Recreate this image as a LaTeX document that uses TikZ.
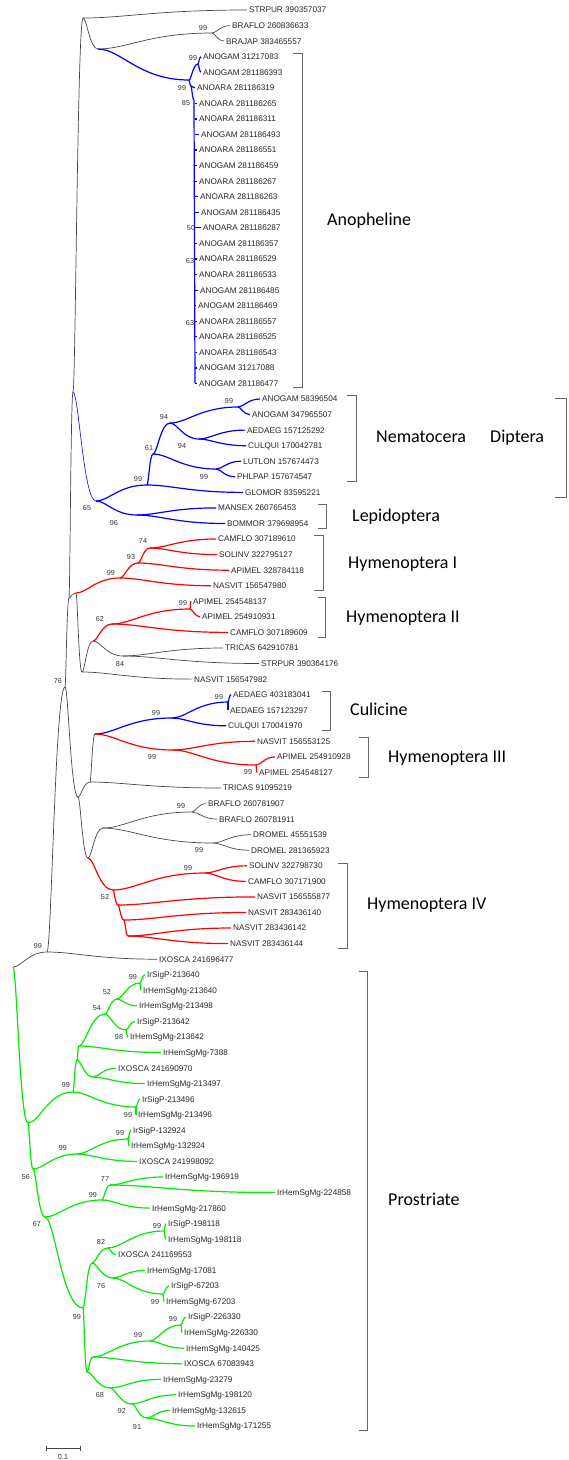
\documentclass[tikz,border=0pt]{standalone}
\usepackage{fontspec}
\setmainfont{Liberation Sans}
\newfontfamily\grpfont{Carlito}
\usetikzlibrary{calc}
\definecolor{treeblue}{RGB}{0,0,255}
\definecolor{treered}{RGB}{255,0,0}
\definecolor{treegreen}{RGB}{0,235,0}
\definecolor{treegray}{RGB}{70,70,70}

\begin{document}
\begin{tikzpicture}[
  x=1pt, y=-1pt,
  lf/.style={anchor=west, inner sep=2pt, text height=5.9pt, text depth=0pt, font=\fontsize{8.2}{9}\selectfont, text=black!85},
  bs/.style={inner sep=0pt, font=\fontsize{7.2}{8}\selectfont, text=black!80},
  grp/.style={anchor=west, inner sep=0pt, text height=11.6pt, text depth=0pt, font=\grpfont\fontsize{18}{20}\selectfont},
  br/.style={to path={let \p1=(\tikztostart), \p2=(\tikztotarget) in .. controls ({\x1+0.25*(\x2-\x1)},\y1) and ({\x1+0.45*(\x2-\x1)},\y2) .. (\p2)}},
  gy/.style={draw=treegray, line width=0.7pt},
  bl/.style={draw=treeblue, line width=1.2pt},
  bt/.style={draw=treeblue, line width=0.6pt},
  rd/.style={draw=treered, line width=1.2pt},
  gn/.style={draw=treegreen, line width=1.2pt},
  brk/.style={draw=black!60, line width=0.7pt}
]
\useasboundingbox (0,0) rectangle (569,1460);

\coordinate (rt) at (13,967);
\coordinate (ix) at (47,952);
\coordinate (n76) at (65,687);
\coordinate (tt) at (69,598);
\coordinate (zz) at (73,392);
\coordinate (xx) at (83,18);
\coordinate (yy) at (98,49);
\coordinate (bra) at (212,33);
\coordinate (ano) at (189,80);
\coordinate (ag1) at (198,64);
\coordinate (aq) at (191,86);
\coordinate (ar) at (194,100);
\coordinate (a6) at (195,103.4);
\coordinate (a7) at (195,118.9);
\coordinate (a8) at (195,134.5);
\coordinate (a9) at (195,150.0);
\coordinate (a10) at (195,165.6);
\coordinate (a11) at (195,181.2);
\coordinate (a12) at (195,196.7);
\coordinate (a13) at (195,212.3);
\coordinate (a14) at (195,227.8);
\coordinate (a15) at (195,243.4);
\coordinate (a16) at (195,259.0);
\coordinate (a17) at (195,274.5);
\coordinate (a18) at (195,290.1);
\coordinate (a19) at (195,305.6);
\coordinate (a20) at (195,321.2);
\coordinate (a21) at (195,336.8);
\coordinate (a22) at (195,352.3);
\coordinate (a23) at (195,367.9);
\coordinate (a24) at (195,383.4);
\coordinate (n65) at (96,501);
\coordinate (n99n) at (147,485);
\coordinate (n61) at (153,454);
\coordinate (n94) at (170,423);
\coordinate (agp) at (238,407);
\coordinate (acq) at (199,439);
\coordinate (lp) at (216,469);
\coordinate (lep) at (137,515);
\coordinate (uu) at (76,593);
\coordinate (h1) at (120,578);
\coordinate (h93) at (138,563);
\coordinate (h74) at (150,548);
\coordinate (ww) at (82,672);
\coordinate (vv) at (93,641);
\coordinate (h62) at (112,624);
\coordinate (apa) at (190,609);
\coordinate (n84) at (123,656);
\coordinate (ee) at (78,797);
\coordinate (dd) at (90,782);
\coordinate (cc) at (95,734);
\coordinate (cu) at (172,718);
\coordinate (aep) at (228,702);
\coordinate (h3) at (173,750);
\coordinate (app) at (256,765);
\coordinate (ff) at (88,858);
\coordinate (gg) at (103,828);
\coordinate (bf) at (192,812);
\coordinate (dm) at (213,843);
\coordinate (h4) at (113,890);
\coordinate (sc) at (205,873);
\coordinate (k1) at (118,905);
\coordinate (k2) at (124,920);
\coordinate (k3) at (128,936);
\coordinate (pp) at (28,1123);
\coordinate (q99) at (73,1092);
\coordinate (q1) at (77,1060);
\coordinate (q2) at (79,1046);
\coordinate (q54) at (105,1014);
\coordinate (q52) at (117,999);
\coordinate (s640) at (140,983);
\coordinate (s642) at (126,1030);
\coordinate (q3) at (93,1077);
\coordinate (s496) at (136,1107);
\coordinate (m56) at (33,1169);
\coordinate (m99) at (77,1154);
\coordinate (s924) at (128,1139);
\coordinate (m67) at (45,1217);
\coordinate (m99b) at (102,1200);
\coordinate (m77) at (110,1185);
\coordinate (m99c) at (83,1308);
\coordinate (m1) at (92,1263);
\coordinate (m82) at (108,1248);
\coordinate (s118) at (164,1231);
\coordinate (m76) at (113,1278);
\coordinate (s203) at (163,1294);
\coordinate (m2) at (87,1372);
\coordinate (m3) at (93,1357);
\coordinate (m99d) at (150,1341);
\coordinate (s330) at (181,1325);
\coordinate (m68) at (110,1388);
\coordinate (m92) at (132,1404);
\coordinate (m91) at (147,1418);

\node[lf] (l0) at (247,10) {STRPUR 390357037};
\node[lf] (l1) at (230,25.6) {BRAFLO 260836633};
\node[lf] (l2) at (224,41.1) {BRAJAP 383465557};
\node[lf] (l3) at (201,56.7) {ANOGAM 31217083};
\node[lf] (l4) at (201,72.2) {ANOGAM 281186393};
\node[lf] (l5) at (195,87.8) {ANOARA 281186319};
\node[lf] (l6) at (197,103.4) {ANOARA 281186265};
\node[lf] (l7) at (197,118.9) {ANOARA 281186311};
\node[lf] (l8) at (199,134.5) {ANOGAM 281186493};
\node[lf] (l9) at (197,150.0) {ANOARA 281186551};
\node[lf] (l10) at (197,165.6) {ANOGAM 281186459};
\node[lf] (l11) at (197,181.2) {ANOARA 281186267};
\node[lf] (l12) at (198,196.7) {ANOARA 281186263};
\node[lf] (l13) at (199,212.3) {ANOGAM 281186435};
\node[lf] (l14) at (201,227.8) {ANOARA 281186287};
\node[lf] (l15) at (197,243.4) {ANOGAM 281186357};
\node[lf] (l16) at (197,259.0) {ANOARA 281186529};
\node[lf] (l17) at (197,274.5) {ANOARA 281186533};
\node[lf] (l18) at (198,290.1) {ANOGAM 281186485};
\node[lf] (l19) at (196,305.6) {ANOGAM 281186469};
\node[lf] (l20) at (197,321.2) {ANOARA 281186557};
\node[lf] (l21) at (197,336.8) {ANOARA 281186525};
\node[lf] (l22) at (197,352.3) {ANOARA 281186543};
\node[lf] (l23) at (197,367.9) {ANOGAM 31217088};
\node[lf] (l24) at (197,383.4) {ANOGAM 281186477};
\node[lf] (l25) at (260,399.0) {ANOGAM 58396504};
\node[lf] (l26) at (250,414.6) {ANOGAM 347965507};
\node[lf] (l27) at (245,430.1) {AEDAEG 157125292};
\node[lf] (l28) at (246,445.7) {CULQUI 170042781};
\node[lf] (l29) at (241,461.2) {LUTLON 157674473};
\node[lf] (l30) at (235,476.8) {PHLPAP 157674547};
\node[lf] (l31) at (243,492.4) {GLOMOR 83595221};
\node[lf] (l32) at (216,507.9) {MANSEX 260765453};
\node[lf] (l33) at (225,523.5) {BOMMOR 379698954};
\node[lf] (l34) at (216,539.0) {CAMFLO 307189610};
\node[lf] (l35) at (217,554.6) {SOLINV 322795127};
\node[lf] (l36) at (229,570.2) {APIMEL 328784118};
\node[lf] (l37) at (211,585.7) {NASVIT 156547980};
\node[lf] (l38) at (191,601.3) {APIMEL 254548137};
\node[lf] (l39) at (200,616.8) {APIMEL 254910931};
\node[lf] (l40) at (228,632.4) {CAMFLO 307189609};
\node[lf] (l41) at (223,648.0) {TRICAS 642910781};
\node[lf] (l42) at (259,663.5) {STRPUR 390364176};
\node[lf] (l43) at (192,679.1) {NASVIT 156547982};
\node[lf] (l44) at (231,694.6) {AEDAEG 403183041};
\node[lf] (l45) at (228,710.2) {AEDAEG 157123297};
\node[lf] (l46) at (226,725.8) {CULQUI 170041970};
\node[lf] (l47) at (255,741.3) {NASVIT 156553125};
\node[lf] (l48) at (275,756.9) {APIMEL 254910928};
\node[lf] (l49) at (257,772.4) {APIMEL 254548127};
\node[lf] (l50) at (221,788.0) {TRICAS 91095219};
\node[lf] (l51) at (206,803.6) {BRAFLO 260781907};
\node[lf] (l52) at (217,819.1) {BRAFLO 260781911};
\node[lf] (l53) at (251,834.7) {DROMEL 45551539};
\node[lf] (l54) at (249,850.2) {DROMEL 281365923};
\node[lf] (l55) at (247,865.8) {SOLINV 322798730};
\node[lf] (l56) at (246,881.4) {CAMFLO 307171900};
\node[lf] (l57) at (255,896.9) {NASVIT 156555877};
\node[lf] (l58) at (246,912.5) {NASVIT 283436140};
\node[lf] (l59) at (231,928.0) {NASVIT 283436142};
\node[lf] (l60) at (228,943.6) {NASVIT 283436144};
\node[lf] (l61) at (157,959.2) {IXOSCA 241696477};
\node[lf] (l62) at (145,974.7) {IrSigP-213640};
\node[lf] (l63) at (141,990.3) {IrHemSgMg-213640};
\node[lf] (l64) at (137,1005.8) {IrHemSgMg-213498};
\node[lf] (l65) at (135,1021.4) {IrSigP-213642};
\node[lf] (l66) at (128,1037.0) {IrHemSgMg-213642};
\node[lf] (l67) at (161,1052.5) {IrHemSgMg-7388};
\node[lf] (l68) at (116,1068.1) {IXOSCA 241690970};
\node[lf] (l69) at (145,1083.6) {IrHemSgMg-213497};
\node[lf] (l70) at (140,1099.2) {IrSigP-213496};
\node[lf] (l71) at (136,1114.8) {IrHemSgMg-213496};
\node[lf] (l72) at (131,1130.3) {IrSigP-132924};
\node[lf] (l73) at (129,1145.9) {IrHemSgMg-132924};
\node[lf] (l74) at (137,1161.4) {IXOSCA 241998092};
\node[lf] (l75) at (163,1177.0) {IrHemSgMg-196919};
\node[lf] (l76) at (275,1192.6) {IrHemSgMg-224858};
\node[lf] (l77) at (150,1208.1) {IrHemSgMg-217860};
\node[lf] (l78) at (166,1223.7) {IrSigP-198118};
\node[lf] (l79) at (166,1239.2) {IrHemSgMg-198118};
\node[lf] (l80) at (116,1254.8) {IXOSCA 241169553};
\node[lf] (l81) at (145,1270.4) {IrHemSgMg-17081};
\node[lf] (l82) at (169,1285.9) {IrSigP-67203};
\node[lf] (l83) at (164,1301.5) {IrHemSgMg-67203};
\node[lf] (l84) at (186,1317.0) {IrSigP-226330};
\node[lf] (l85) at (182,1332.6) {IrHemSgMg-226330};
\node[lf] (l86) at (184,1348.2) {IrHemSgMg-140425};
\node[lf] (l87) at (182,1363.7) {IXOSCA 67083943};
\node[lf] (l88) at (161,1379.3) {IrHemSgMg-23279};
\node[lf] (l89) at (176,1394.8) {IrHemSgMg-198120};
\node[lf] (l90) at (170,1410.4) {IrHemSgMg-132615};
\node[lf] (l91) at (195,1426.0) {IrHemSgMg-171255};

\draw[gy] (rt) to[br] (ix);
\draw[gy] (ix) to[br] (l61.west);
\draw[gy] (ix) to[br] (n76);
\draw[gy] (n76) to[br] (tt);
\draw[gy] (n76) to[br] (ee);
\draw[gy] (tt) to[br] (zz);
\draw[gy] (tt) to[br] (uu);
\draw[gy] (zz) to[br] (xx);
\draw[gy] (xx) to[br] (l0.west);
\draw[gy] (xx) to[br] (yy);
\draw[gy] (yy) to[br] (bra);
\draw[gy] (bra) to[br] (l1.west);
\draw[gy] (bra) to[br] (l2.west);
\draw[gy] (uu) to[br] (ww);
\draw[gy] (ww) to[br] (vv);
\draw[gy] (ww) to[br] (l43.west);
\draw[gy] (vv) to[br] (n84);
\draw[gy] (n84) to[br] (l41.west);
\draw[gy] (n84) to[br] (l42.west);
\draw[gy] (ee) to[br] (dd);
\draw[gy] (ee) to[br] (ff);
\draw[gy] (dd) to[br] (cc);
\draw[gy] (dd) to[br] (l50.west);
\draw[gy] (ff) to[br] (gg);
\draw[gy] (gg) to[br] (bf);
\draw[gy] (gg) to[br] (dm);
\draw[gy] (bf) to[br] (l51.west);
\draw[gy] (bf) to[br] (l52.west);
\draw[gy] (dm) to[br] (l53.west);
\draw[gy] (dm) to[br] (l54.west);

\draw[bl] (yy) to[br] (ano);
\draw[bl] (ano) to[br] (ag1);
\draw[bl] (ano) to[br] (aq);
\draw[bl] (ag1) to[br] (l3.west);
\draw[bl] (ag1) to[br] (l4.west);
\draw[bl] (aq) to[br] (l5.west);
\draw[bl] (aq) to[br] (ar);
\draw[bl] (ar) -- (a24);
\draw[bl] (a6) to[br] (l6.west);
\draw[bl] (a7) to[br] (l7.west);
\draw[bl] (a8) to[br] (l8.west);
\draw[bl] (a9) to[br] (l9.west);
\draw[bl] (a10) to[br] (l10.west);
\draw[bl] (a11) to[br] (l11.west);
\draw[bl] (a12) to[br] (l12.west);
\draw[bl] (a13) to[br] (l13.west);
\draw[bl] (a14) to[br] (l14.west);
\draw[bl] (a15) to[br] (l15.west);
\draw[bl] (a16) to[br] (l16.west);
\draw[bl] (a17) to[br] (l17.west);
\draw[bl] (a18) to[br] (l18.west);
\draw[bl] (a19) to[br] (l19.west);
\draw[bl] (a20) to[br] (l20.west);
\draw[bl] (a21) to[br] (l21.west);
\draw[bl] (a22) to[br] (l22.west);
\draw[bl] (a23) to[br] (l23.west);
\draw[bl] (a24) to[br] (l24.west);
\draw[bt] (zz) to[br] (n65);
\draw[bl] (n65) to[br] (n99n);
\draw[bl] (n65) to[br] (lep);
\draw[bl] (lep) to[br] (l32.west);
\draw[bl] (lep) to[br] (l33.west);
\draw[bl] (n99n) to[br] (n61);
\draw[bl] (n99n) to[br] (l31.west);
\draw[bl] (n61) to[br] (n94);
\draw[bl] (n61) to[br] (lp);
\draw[bl] (n94) to[br] (agp);
\draw[bl] (n94) to[br] (acq);
\draw[bl] (agp) to[br] (l25.west);
\draw[bl] (agp) to[br] (l26.west);
\draw[bl] (acq) to[br] (l27.west);
\draw[bl] (acq) to[br] (l28.west);
\draw[bl] (lp) to[br] (l29.west);
\draw[bl] (lp) to[br] (l30.west);
\draw[bl] (cc) to[br] (cu);
\draw[bl] (cu) to[br] (aep);
\draw[bl] (cu) to[br] (l46.west);
\draw[bl] (aep) to[br] (l44.west);
\draw[bl] (aep) to[br] (l45.west);

\draw[rd] (uu) to[br] (h1);
\draw[rd] (h1) to[br] (h93);
\draw[rd] (h1) to[br] (l37.west);
\draw[rd] (h93) to[br] (h74);
\draw[rd] (h93) to[br] (l36.west);
\draw[rd] (h74) to[br] (l34.west);
\draw[rd] (h74) to[br] (l35.west);
\draw[rd] (vv) to[br] (h62);
\draw[rd] (h62) to[br] (apa);
\draw[rd] (h62) to[br] (l40.west);
\draw[rd] (apa) to[br] (l38.west);
\draw[rd] (apa) to[br] (l39.west);
\draw[rd] (cc) to[br] (h3);
\draw[rd] (h3) to[br] (l47.west);
\draw[rd] (h3) to[br] (app);
\draw[rd] (app) to[br] (l48.west);
\draw[rd] (app) to[br] (l49.west);
\draw[rd] (ff) to[br] (h4);
\draw[rd] (h4) to[br] (sc);
\draw[rd] (h4) to[br] (k1);
\draw[rd] (sc) to[br] (l55.west);
\draw[rd] (sc) to[br] (l56.west);
\draw[rd] (k1) to[br] (l57.west);
\draw[rd] (k1) to[br] (k2);
\draw[rd] (k2) to[br] (l58.west);
\draw[rd] (k2) to[br] (k3);
\draw[rd] (k3) to[br] (l59.west);
\draw[rd] (k3) to[br] (l60.west);

\draw[gn] (rt) to[br] (pp);
\draw[gn] (pp) to[br] (q99);
\draw[gn] (pp) to[br] (m56);
\draw[gn] (q99) to[br] (q1);
\draw[gn] (q99) to[br] (s496);
\draw[gn] (q1) to[br] (q2);
\draw[gn] (q1) to[br] (q3);
\draw[gn] (q2) to[br] (q54);
\draw[gn] (q2) to[br] (l67.west);
\draw[gn] (q54) to[br] (q52);
\draw[gn] (q54) to[br] (s642);
\draw[gn] (q52) to[br] (s640);
\draw[gn] (q52) to[br] (l64.west);
\draw[gn] (s640) to[br] (l62.west);
\draw[gn] (s640) to[br] (l63.west);
\draw[gn] (s642) to[br] (l65.west);
\draw[gn] (s642) to[br] (l66.west);
\draw[gn] (q3) to[br] (l68.west);
\draw[gn] (q3) to[br] (l69.west);
\draw[gn] (s496) to[br] (l70.west);
\draw[gn] (s496) to[br] (l71.west);
\draw[gn] (m56) to[br] (m99);
\draw[gn] (m56) to[br] (m67);
\draw[gn] (m99) to[br] (s924);
\draw[gn] (m99) to[br] (l74.west);
\draw[gn] (s924) to[br] (l72.west);
\draw[gn] (s924) to[br] (l73.west);
\draw[gn] (m67) to[br] (m99b);
\draw[gn] (m67) to[br] (m99c);
\draw[gn] (m99b) to[br] (m77);
\draw[gn] (m99b) to[br] (l77.west);
\draw[gn] (m77) to[br] (l75.west);
\draw[gn] (m77) to[br] (l76.west);
\draw[gn] (m99c) to[br] (m1);
\draw[gn] (m99c) to[br] (m2);
\draw[gn] (m1) to[br] (m82);
\draw[gn] (m1) to[br] (m76);
\draw[gn] (m82) to[br] (s118);
\draw[gn] (m82) to[br] (l80.west);
\draw[gn] (s118) to[br] (l78.west);
\draw[gn] (s118) to[br] (l79.west);
\draw[gn] (m76) to[br] (l81.west);
\draw[gn] (m76) to[br] (s203);
\draw[gn] (s203) to[br] (l82.west);
\draw[gn] (s203) to[br] (l83.west);
\draw[gn] (m2) to[br] (m3);
\draw[gn] (m2) to[br] (m68);
\draw[gn] (m3) to[br] (m99d);
\draw[gn] (m3) to[br] (l87.west);
\draw[gn] (m99d) to[br] (s330);
\draw[gn] (m99d) to[br] (l86.west);
\draw[gn] (s330) to[br] (l84.west);
\draw[gn] (s330) to[br] (l85.west);
\draw[gn] (m68) to[br] (l88.west);
\draw[gn] (m68) to[br] (m92);
\draw[gn] (m92) to[br] (l89.west);
\draw[gn] (m92) to[br] (m91);
\draw[gn] (m91) to[br] (l90.west);
\draw[gn] (m91) to[br] (l91.west);

\node[bs] (b1) at (203,28) {99};
\node[bs] (b2) at (193,58) {99};
\node[bs] (b3) at (182,88) {99};
\node[bs] (b4) at (186,103) {85};
\node[bs] (b5) at (191,228) {50};
\node[bs] (b6) at (190,261) {63};
\node[bs] (b7) at (190,323) {63};
\node[bs] (b8) at (229,401) {99};
\node[bs] (b9) at (164,417) {94};
\node[bs] (b10) at (182,446) {94};
\node[bs] (b11) at (149,448) {61};
\node[bs] (b12) at (204,477) {99};
\node[bs] (b13) at (138,479) {99};
\node[bs] (b14) at (87,508) {65};
\node[bs] (b15) at (114,523) {96};
\node[bs] (b16) at (143,541) {74};
\node[bs] (b17) at (131,557) {93};
\node[bs] (b18) at (111,573) {99};
\node[bs] (b19) at (183,603) {99};
\node[bs] (b20) at (100,619) {62};
\node[bs] (b21) at (120,664) {84};
\node[bs] (b22) at (58,681) {76};
\node[bs] (b23) at (219,697) {99};
\node[bs] (b24) at (156,713) {99};
\node[bs] (b25) at (152,757) {99};
\node[bs] (b26) at (248,772) {99};
\node[bs] (b27) at (181,806) {99};
\node[bs] (b28) at (199,850) {99};
\node[bs] (b29) at (188,868) {99};
\node[bs] (b30) at (105,897) {52};
\node[bs] (b31) at (38,946) {99};
\node[bs] (b32) at (133,977) {99};
\node[bs] (b33) at (107,992) {52};
\node[bs] (b34) at (97,1008) {54};
\node[bs] (b35) at (119,1037) {98};
\node[bs] (b36) at (66,1085) {99};
\node[bs] (b37) at (128,1115) {99};
\node[bs] (b38) at (120,1133) {99};
\node[bs] (b39) at (63,1148) {99};
\node[bs] (b40) at (26,1177) {56};
\node[bs] (b41) at (105,1179) {77};
\node[bs] (b42) at (93,1195) {99};
\node[bs] (b43) at (37,1224) {67};
\node[bs] (b44) at (157,1226) {99};
\node[bs] (b45) at (101,1242) {82};
\node[bs] (b46) at (101,1286) {76};
\node[bs] (b47) at (155,1302) {99};
\node[bs] (b48) at (77,1317) {99};
\node[bs] (b49) at (173,1319) {99};
\node[bs] (b50) at (138,1335) {99};
\node[bs] (b51) at (100,1395) {68};
\node[bs] (b52) at (122,1411) {92};
\node[bs] (b53) at (137,1427) {91};

\draw[brk] (293,53) -| (302,387) -- (293,387);
\draw[brk] (347,395) -| (356,481) -- (347,481);
\draw[brk] (555,398) -| (566,497) -- (555,497);
\draw[brk] (318,504) -| (326,528) -- (318,528);
\draw[brk] (314,535) -| (323,590) -- (314,590);
\draw[brk] (318,597) -| (325,637) -- (318,637);
\draw[brk] (322,691) -| (330,730) -- (322,730);
\draw[brk] (359,737) -| (368,777) -- (359,777);
\draw[brk] (338,863) -| (347,948) -- (338,948);
\draw[brk] (359,971) -| (367,1430) -- (359,1430);

\node[grp] (gAno) at (327,220) {Anopheline};
\node[grp] (gNem) at (376,437) {Nematocera};
\node[grp] (gDip) at (490,437) {Diptera};
\node[grp] (gLep) at (352,516) {Lepidoptera};
\node[grp] (gHy1) at (348,563) {Hymenoptera I};
\node[grp] (gHy2) at (346,617) {Hymenoptera II};
\node[grp] (gCul) at (350,710) {Culicine};
\node[grp] (gHy3) at (388,757) {Hymenoptera III};
\node[grp] (gHy4) at (367,904) {Hymenoptera IV};
\node[grp] (gPro) at (388,1200) {Prostriate};

\coordinate (sb1) at (46,1448);
\coordinate (sb2) at (80,1448);
\draw[gy] (sb1) -- (sb2);
\draw[gy] ([yshift=2.5pt]sb1) -- ([yshift=-2.5pt]sb1);
\draw[gy] ([yshift=2.5pt]sb2) -- ([yshift=-2.5pt]sb2);
\node[bs] (sbl) at (63,1457) {0.1};
\end{tikzpicture}
\end{document}
